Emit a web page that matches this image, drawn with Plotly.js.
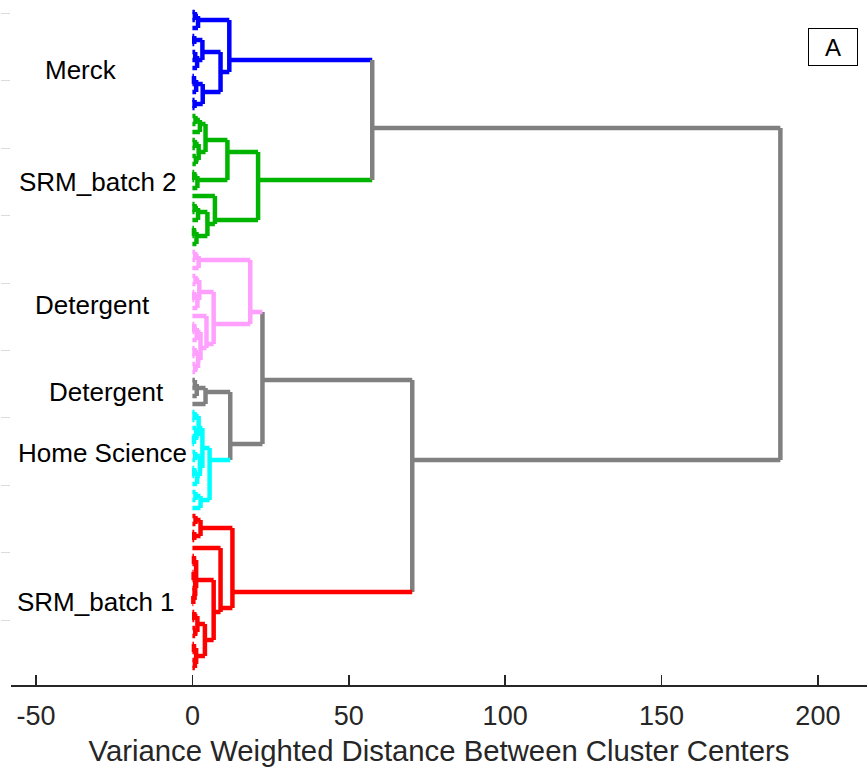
<!DOCTYPE html>
<html><head><meta charset="utf-8">
<script src="https://cdn.plot.ly/plotly-3.0.1.min.js"></script>
<style>html,body{margin:0;padding:0;background:#fff}#chart{width:867px;height:770px}</style>
</head><body><div id="chart"></div>
<script>
// Dendrogram data: leaf = 0, internal node = [mergeHeight, left, right]
const blueTree  = [11.8, [1.8,[0.8,0,0],0], [9.0, [3.2,[0.6,0,0],[1.5,[0.9,0,0],0]], [3.3,[1.2,[0.5,0,0],0],[0.7,0,0]]]];
const greenTree = [21.0, [11.2, [4.2, [2.4,[1.0,0,0],0], [2.0,[0.8,0,0],[1.1,0,0]]], [1.6,[0.6,0,0],0]],
                         [7.2, 0, [4.8, [1.8,[0.7,0,0],0], [1.3,[0.5,0,0],0]]]];
const pinkTree  = [18.5, [2.0,[0.9,0,0],0], [6.8, [2.2,[1.0,0,0],[1.6,[0.6,0,0],0]],
                         [4.5, 0, [2.6, [1.4,[0.6,0,0],0], [1.8,[0.7,0,0],[0.9,0,0]]]]]];
const grayTree  = [4.2, [1.4,[0.8,0,0],0], 0];
const cyanTree  = [5.5, [3.2, [2.0,[0.7,0,0],[1.2,0,[0.5,0,0]]], [2.4,[0.9,0,0],[1.5,[0.6,0,0],0]]], [2.6,[1.0,0,0],0]];
const redTree   = [12.8, [2.6,[1.0,0,0],[0.6,0,0]], [9.0, 0, [6.8, [1.2,[0.5,0,0],[0.9,[0.4,0,0],[0.7,0,[0.3,0,0]]]],
                         [4.0, [1.6,[0.6,0,0],[0.9,0,0]], [1.2,[0.5,0,0],[0.8,0,0]]]]]];

const clusterColors = ['#0000ff', '#00b400', '#ffa0ff', '#808080', '#00ffff', '#ff0000'];
const linkColor = '#808080';
// upper-level merge heights
const mergeBlueGreen = 57.5, mergeGrayCyan = 12.1, mergePinkRest = 22.4, mergeLowerRed = 70.3, mergeRoot = 188.0;

const labelText = ['Merck', 'SRM_batch 2', 'Detergent', 'Detergent', 'Home Science', 'SRM_batch 1'];
const labelY = [8.25, 22.25, 37.6, 48.5, 56.1, 74.75];
const labelX = [-35.6, -30.2, -32.1, -27.6, -28.9, -30.7];

const xTickVals = [-50, 0, 50, 100, 150, 200];
const xTickText = ['-50', '0', '50', '100', '150', '200'];

const root = [mergeRoot,
  [mergeBlueGreen, {c: clusterColors[0], t: blueTree}, {c: clusterColors[1], t: greenTree}],
  [mergeLowerRed,
    [mergePinkRest, {c: clusterColors[2], t: pinkTree},
      [mergeGrayCyan, {c: clusterColors[3], t: grayTree}, {c: clusterColors[4], t: cyanTree}]],
    {c: clusterColors[5], t: redTree}]];

const segs = {};
function push(color, xs, ys) {
  if (!segs[color]) segs[color] = {x: [], y: []};
  segs[color].x.push(...xs, null);
  segs[color].y.push(...ys, null);
}
let leafIdx = 0;
function walk(node, color) {
  if (node === 0) { leafIdx++; return {y: leafIdx, h: 0, n: 1, c: color}; }
  if (!Array.isArray(node)) return walk(node.t, node.c);
  const a = walk(node[1], color), b = walk(node[2], color), h = node[0];
  push(a.c, [a.h, h], [a.y, a.y]);
  push(b.c, [b.h, h], [b.y, b.y]);
  push(color, [h, h], [a.y, b.y]);
  const n = a.n + b.n;
  return {y: (a.y * a.n + b.y * b.n) / n, h: h, n: n, c: color};
}
walk(root, linkColor);

const traces = Object.keys(segs).map(c => ({
  type: 'scatter', mode: 'lines', x: segs[c].x, y: segs[c].y,
  line: {color: c, width: 4.5}, hoverinfo: 'skip', connectgaps: false
}));

const font = 'Liberation Sans, Arial, sans-serif';
const annotations = labelText.map((t, i) => ({
  text: t, x: labelX[i], y: labelY[i], xref: 'x', yref: 'y', showarrow: false,
  font: {family: font, size: 26, color: '#000'}
}));
annotations.push({
  text: 'A', xref: 'paper', yref: 'paper', x: 0.9597, y: 0.932, xanchor: 'center', yanchor: 'middle',
  showarrow: false, width: 46, height: 34, bordercolor: '#000', borderwidth: 1, borderpad: 1, bgcolor: '#fff',
  font: {family: font, size: 24, color: '#000'}
});

const layout = {
  width: 867, height: 770,
  margin: {l: 11, r: 0, t: 0, b: 85},
  paper_bgcolor: '#fff', plot_bgcolor: '#fff',
  showlegend: false, hovermode: false,
  xaxis: {
    range: [-58, 215.7], tickvals: xTickVals, ticktext: xTickText, ticks: 'inside', ticklen: 10, tickwidth: 1.5,
    tickcolor: '#262626', showline: true, linecolor: '#262626', linewidth: 2,
    showgrid: false, zeroline: false, ticklabelstandoff: 6,
    tickfont: {family: font, size: 27, color: '#262626'},
    title: {text: 'Variance Weighted Distance Between Cluster Centers', font: {family: font, size: 29.3, color: '#262626'}, standoff: 10}
  },
  yaxis: {
    range: [85.125, -0.5], showline: false, showgrid: false, zeroline: false,
    showticklabels: false, ticks: 'outside', ticklen: 9, tickwidth: 1, tickcolor: '#dcdcdc',
    tick0: 1.1875, dtick: 8.425
  },
  annotations: annotations
};
Plotly.newPlot('chart', traces, layout, {displayModeBar: false, staticPlot: true});
</script></body></html>
